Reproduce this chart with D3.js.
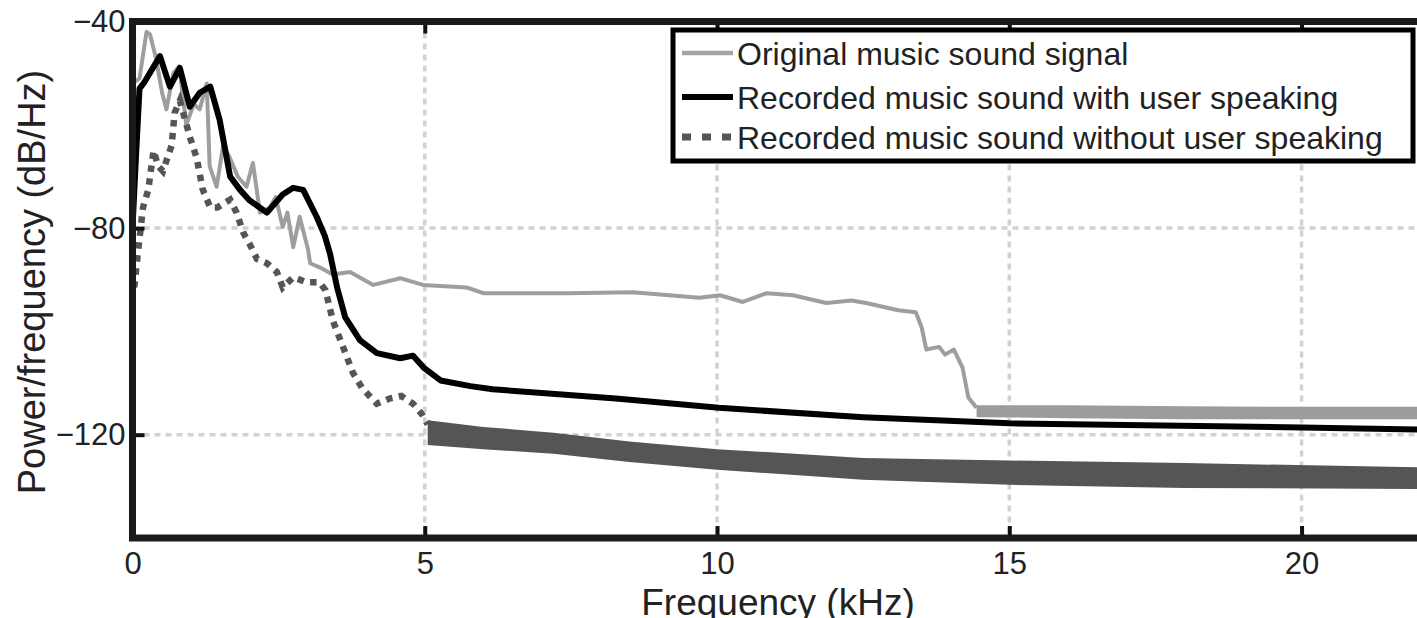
<!DOCTYPE html>
<html>
<head>
<meta charset="utf-8">
<script src="https://cdn.jsdelivr.net/npm/d3@7"></script>
<style>
  body { margin: 0; background: #fff; }
  svg { display: block; font-family: "Liberation Sans", Arial, sans-serif; }
</style>
</head>
<body>
<svg></svg>
<script>
const w = 1417
const h = 618

// original music sound (kHz, dB/Hz)
const origFreq = [0, 0.12, 0.24, 0.3, 0.4, 0.51, 0.58, 0.7, 0.8, 0.92, 1.05, 1.15, 1.27, 1.32, 1.44, 1.55, 1.65, 1.8, 1.95, 2.06, 2.18, 2.35, 2.45, 2.57, 2.65, 2.75, 2.86, 3.0, 3.04, 3.2, 3.43, 3.72, 4.12, 4.58, 4.97, 5.72, 6.0, 7.43, 8.56, 9.7, 10.05, 10.44, 10.85, 11.3, 11.87, 12.3, 12.55, 13.1, 13.4, 13.5, 13.58, 13.8, 13.9, 14.05, 14.2, 14.3, 14.44]
const origDb = [-52, -51, -42, -42.5, -47, -54, -57, -50, -48.7, -60, -56, -57, -52, -68, -72, -64, -66, -70, -72, -67.4, -77, -76, -74, -79.8, -77, -83.7, -77.8, -84, -86.8, -87.6, -89, -88.5, -91, -89.7, -91, -91.5, -92.6, -92.6, -92.4, -93.5, -93, -94.3, -92.6, -93, -94.5, -94, -94.5, -95.9, -96.3, -99.2, -103.5, -103, -104.5, -103.5, -107, -112.8, -114.8]
// original: noisy flat part above 14.4 kHz (upper / lower edge)
const origBandFreq = [14.44, 16, 18, 20, 22.05]
const origBandHi = [-114.3, -114.3, -114.5, -114.6, -114.6]
const origBandLo = [-116.6, -116.8, -117, -117, -117]

// recorded with user speaking
const withFreq = [0, 0.06, 0.12, 0.2, 0.47, 0.64, 0.81, 0.98, 1.15, 1.33, 1.49, 1.67, 1.84, 2.0, 2.3, 2.57, 2.75, 2.92, 3.15, 3.29, 3.38, 3.5, 3.64, 3.89, 4.18, 4.58, 4.8, 4.98, 5.27, 5.78, 6.16, 8.27, 10.03, 12.5, 15, 20, 22.05]
const withDb = [-80, -66, -53, -51.8, -46.7, -52.6, -49, -56.5, -53.8, -52.6, -59, -70, -72.6, -74.6, -77, -73.5, -72.2, -72.6, -77.8, -81.5, -85, -91.5, -97.3, -101.7, -104.2, -105.2, -104.7, -107, -109.5, -110.6, -111.2, -113, -114.8, -116.6, -117.8, -118.6, -119]

// recorded without user speaking
const withoutFreq = [0.03, 0.1, 0.18, 0.27, 0.36, 0.44, 0.52, 0.67, 0.72, 0.81, 0.98, 1.1, 1.2, 1.33, 1.45, 1.67, 1.78, 1.9, 2.0, 2.13, 2.3, 2.47, 2.57, 2.75, 2.98, 3.2, 3.3, 3.43, 3.55, 3.67, 3.77, 3.93, 4.18, 4.4, 4.6, 4.8, 4.95, 5.05]
const withoutDb = [-91.5, -84, -76, -72.6, -65, -68, -69, -64, -57.7, -55.3, -62.3, -66.5, -72.5, -76, -76, -74.5, -77, -81, -83, -86, -86.8, -88.5, -91.5, -89.5, -90.5, -90.5, -92, -98, -101.5, -105, -108, -111, -114, -113, -112.5, -114, -116, -118]
// without: dense noisy part above 5 kHz (upper / lower edge)
const withoutBandFreq = [5.05, 6, 7.2, 8.5, 10, 12.5, 15, 18, 22.05]
const withoutBandHi = [-117.2, -118.5, -119.6, -121.3, -122.8, -124.5, -125, -125.5, -126.3]
const withoutBandLo = [-122, -122.8, -123.7, -125.3, -126.8, -128.7, -129.7, -130.3, -130.5]

const xTicks = [0, 5, 10, 15, 20]
const yTicks = [-40, -80, -120]
const legendLabels = ['Original music sound signal', 'Recorded music sound with user speaking', 'Recorded music sound without user speaking']

const svg = d3.select('svg')
  .attr('width', w)
  .attr('height', h);

const m = {left: 132.5, top: 21.5, right: 1421.4, bottom: 538};

const xScale = d3.scaleLinear().domain([0, 22.05]).range([m.left, m.right]);
const yScale = d3.scaleLinear().domain([-140, -40]).range([m.bottom, m.top]);

svg.append('clipPath').attr('id', 'plot')
  .append('rect')
  .attr('x', m.left).attr('y', m.top)
  .attr('width', m.right - m.left).attr('height', m.bottom - m.top);

// grid
const grid = svg.append('g')
  .attr('stroke', '#d2d2d2')
  .attr('stroke-width', 3.5)
  .attr('stroke-dasharray', '6,5');
grid.selectAll('.gx').data(xTicks.slice(1)).enter().append('line')
  .attr('x1', d => xScale(d)).attr('x2', d => xScale(d))
  .attr('y1', m.top).attr('y2', m.bottom);
grid.selectAll('.gy').data(yTicks.slice(1)).enter().append('line')
  .attr('x1', m.left).attr('x2', m.right)
  .attr('y1', d => yScale(d)).attr('y2', d => yScale(d));

const g = svg.append('g').attr('clip-path', 'url(#plot)');

const zip = (xs, ys) => xs.map((x, i) => [x, ys[i]]);
const zip3 = (xs, hi, lo) => xs.map((x, i) => [x, hi[i], lo[i]]);
const line = d3.line().x(d => xScale(d[0])).y(d => yScale(d[1]));
const band = d3.area()
  .x(d => xScale(d[0]))
  .y0(d => yScale(d[2]))
  .y1(d => yScale(d[1]));

// original (light gray)
g.append('path').datum(zip3(origBandFreq, origBandHi, origBandLo))
  .attr('d', band).attr('fill', '#9c9c9c');
g.append('path').datum(zip(origFreq, origDb))
  .attr('d', line)
  .attr('fill', 'none')
  .attr('stroke', '#9e9e9e')
  .attr('stroke-width', 4)
  .attr('stroke-linejoin', 'round');

// with speaking (black)
g.append('path').datum(zip(withFreq, withDb))
  .attr('d', line)
  .attr('fill', 'none')
  .attr('stroke', '#000')
  .attr('stroke-width', 6)
  .attr('stroke-linejoin', 'round');

// without speaking (dotted dark gray)
g.append('path').datum(zip3(withoutBandFreq, withoutBandHi, withoutBandLo))
  .attr('d', band).attr('fill', '#555');
g.append('path').datum(zip(withoutFreq, withoutDb))
  .attr('d', line)
  .attr('fill', 'none')
  .attr('stroke', '#555')
  .attr('stroke-width', 6.5)
  .attr('stroke-dasharray', '6.5,6.5');

// axes
const xAxis = d3.axisBottom(xScale).tickValues(xTicks).tickSize(-12).tickPadding(14);
const yAxis = d3.axisLeft(yScale).tickValues(yTicks).tickSize(-12).tickPadding(7);

const xAxisG = svg.append('g').attr('transform', `translate(0, ${m.bottom})`).call(xAxis);
const yAxisG = svg.append('g').attr('transform', `translate(${m.left}, 0)`).call(yAxis);
const xTopG = svg.append('g').attr('transform', `translate(0, ${m.top})`)
  .call(d3.axisTop(xScale).tickValues(xTicks).tickSize(-12).tickFormat(''));

[xAxisG, yAxisG, xTopG].forEach(a => {
  a.select('.domain').remove();
  a.selectAll('line').attr('stroke', '#111').attr('stroke-width', 4);
  a.selectAll('text')
    .attr('font-family', '"Liberation Sans", Arial, sans-serif')
    .attr('font-size', 31)
    .attr('fill', '#222');
});

// frame
svg.append('rect')
  .attr('x', m.left).attr('y', m.top)
  .attr('width', m.right - m.left).attr('height', m.bottom - m.top)
  .attr('fill', 'none')
  .attr('stroke', '#1a1a1a')
  .attr('stroke-width', 7);

// axis titles
svg.append('text')
  .attr('x', 778).attr('y', 615)
  .attr('text-anchor', 'middle')
  .attr('font-size', 37)
  .attr('fill', '#222')
  .text('Frequency (kHz)');
svg.append('text')
  .attr('transform', 'translate(45, 282) rotate(-90)')
  .attr('text-anchor', 'middle')
  .attr('font-size', 38)
  .attr('fill', '#222')
  .text('Power/frequency (dB/Hz)');

// legend
const lg = svg.append('g');
lg.append('rect')
  .attr('x', 673).attr('y', 30)
  .attr('width', 740).attr('height', 131)
  .attr('fill', '#fff')
  .attr('stroke', '#000')
  .attr('stroke-width', 5);
const styles = [
  {stroke: '#a4a4a4', width: 4.5, dash: null},
  {stroke: '#000', width: 6, dash: null},
  {stroke: '#555', width: 7, dash: '9,11'}
];
const rowY = [53, 97, 137];
legendLabels.forEach((lab, i) => {
  lg.append('line')
    .attr('x1', 682).attr('x2', 733)
    .attr('y1', rowY[i]).attr('y2', rowY[i])
    .attr('stroke', styles[i].stroke)
    .attr('stroke-width', styles[i].width)
    .attr('stroke-dasharray', styles[i].dash);
  lg.append('text')
    .attr('x', 737).attr('y', rowY[i] + 12)
    .attr('font-size', 32)
    .attr('fill', '#222')
    .text(lab);
});
</script>
</body>
</html>
